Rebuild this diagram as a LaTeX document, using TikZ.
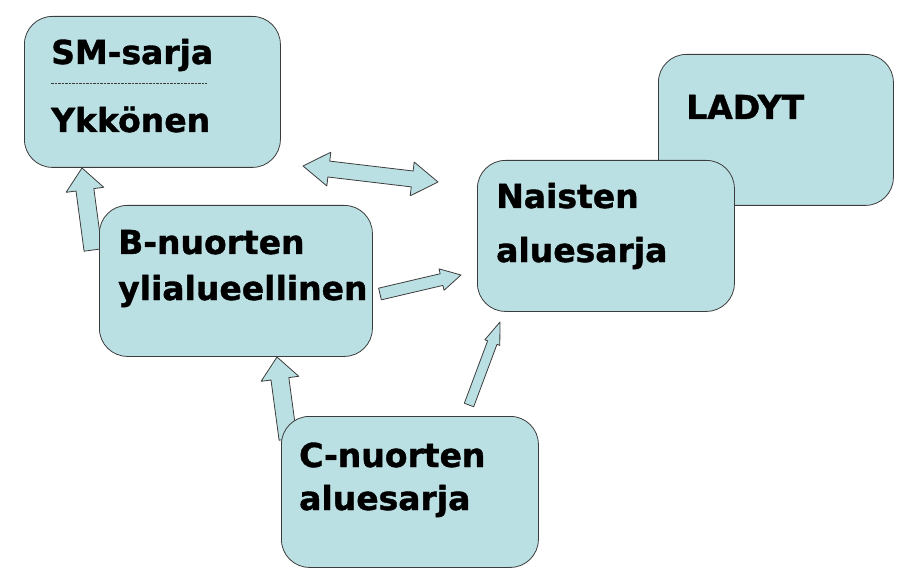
\documentclass[tikz,border=0pt]{standalone}
\usepackage{fontspec}
\setmainfont{DejaVu Sans}[BoldFeatures={FakeBold=1.2}]
\usetikzlibrary{calc}

% fat arrow: tail, tip, shaft half width, head half width, head length
\newcommand{\blockarrow}[5]{%
	\coordinate (ba) at ($(#2)!#5!(#1)$);
	\filldraw[fatarrow] ($(#1)!#3!90:(#2)$) -- ($(ba)!#3!90:(#2)$) -- ($(ba)!#4!90:(#2)$) -- (#2)
		-- ($(ba)!#4!-90:(#2)$) -- ($(ba)!#3!-90:(#2)$) -- ($(#1)!#3!-90:(#2)$) -- cycle;
}
% fat arrow with two heads
\newcommand{\twoheadarrow}[5]{%
	\coordinate (da) at ($(#1)!#5!(#2)$);
	\coordinate (db) at ($(#2)!#5!(#1)$);
	\filldraw[fatarrow] (#1) -- ($(da)!#4!90:(#2)$) -- ($(da)!#3!90:(#2)$) -- ($(db)!#3!90:(#2)$)
		-- ($(db)!#4!90:(#2)$) -- (#2) -- ($(db)!#4!-90:(#2)$) -- ($(db)!#3!-90:(#2)$)
		-- ($(da)!#3!-90:(#2)$) -- ($(da)!#4!-90:(#2)$) -- cycle;
}

\begin{document}
\begin{tikzpicture}[x=1pt,y=-1pt,line join=round]
	\definecolor{paleaqua}{RGB}{187,224,227}
	\definecolor{edgegray}{RGB}{60,60,60}
	\tikzset{
		box/.style={draw=edgegray,fill=paleaqua,line width=0.8pt,rounded corners=28pt,
			anchor=north west,inner sep=0,minimum height=151pt},
		txt/.style={anchor=base west,inner sep=0,font=\bfseries\fontsize{33}{40}\selectfont},
		fatarrow/.style={draw=edgegray,fill=paleaqua,line width=0.8pt}
	}
	\useasboundingbox (0,0) rectangle (912,569);
	
	%%%% arrow ends
	\coordinate (bnuo-up) at (93,250);
	\coordinate (sm-in) at (82,168);
	\coordinate (cnuo-up) at (288,439);
	\coordinate (bnuo-in) at (277,357);
	\coordinate (sm-out) at (303,166);
	\coordinate (nais-out) at (438,182);
	\coordinate (bnuo-right) at (380,294);
	\coordinate (nais-in) at (461,275);
	\coordinate (cnuo-right) at (469,405);
	\coordinate (nais-low) at (500,322);
	
	\blockarrow{bnuo-up}{sm-in}{9pt}{19pt}{22pt}
	\blockarrow{cnuo-up}{bnuo-in}{9pt}{19pt}{22pt}
	\twoheadarrow{sm-out}{nais-out}{8pt}{17pt}{26pt}
	\blockarrow{bnuo-right}{nais-in}{6pt}{11pt}{20pt}
	\blockarrow{cnuo-right}{nais-low}{5pt}{8pt}{22pt}
	
	%%%% boxes
	\node[box,minimum width=256pt] (sm) at (24,16) {};
	\node[box,minimum width=273pt] (bnuo) at (99,205) {};
	\node[box,minimum width=257pt] (cnuo) at (281,416) {};
	\node[box,minimum width=235pt] (lady) at (658,54) {};
	\node[box,minimum width=257pt] (nais) at (477,160) {};
	
	%%%% texts
	\node[txt] (sm-a) at (51,64) {SM-sarja};
	\draw[edgegray,line width=0.7pt,dash pattern=on 2.5pt off 1pt] (51,83) -- (207,83); %katkoviiva
	\node[txt] (sm-b) at (51,132) {Ykkönen};
	\node[txt] (bnuo-a) at (118,254) {B-nuorten};
	\node[txt] (bnuo-b) at (118,300) {ylialueellinen};
	\node[txt] (cnuo-a) at (299,467) {C-nuorten};
	\node[txt] (cnuo-b) at (299,510) {aluesarja};
	\node[txt] (lady-a) at (686,119) {LADYT};
	\node[txt] (nais-a) at (496,208) {Naisten};
	\node[txt] (nais-b) at (496,262) {aluesarja};
\end{tikzpicture}
\end{document}
